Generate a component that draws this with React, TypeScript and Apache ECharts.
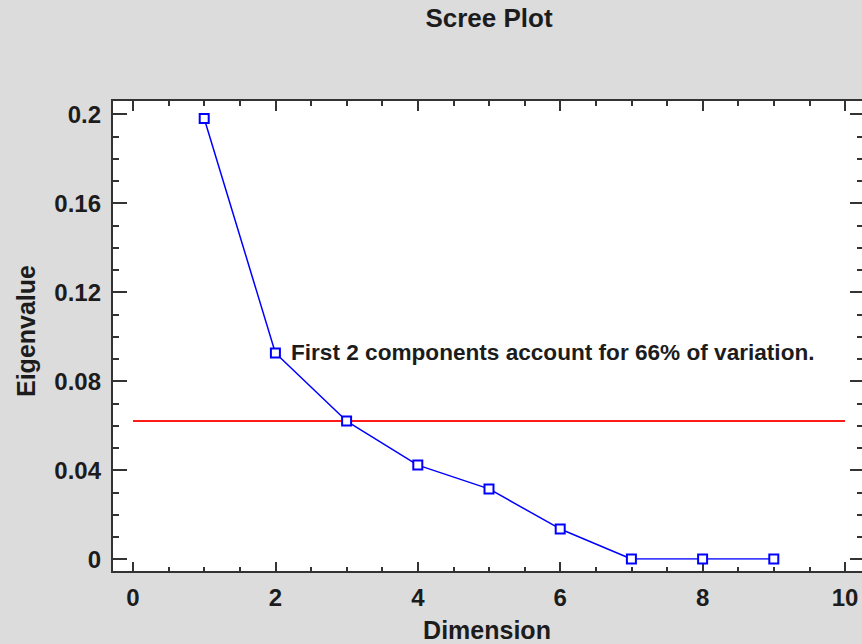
import React, { useEffect, useRef } from "react";
import * as echarts from "echarts";

const dimensions = [1, 2, 3, 4, 5, 6, 7, 8, 9];
const eigenvalues = [0.198, 0.0926, 0.062, 0.0422, 0.0315, 0.0135, 0, 0, 0];
const thresholdValue = 0.062;
const thresholdRange = [0, 10];
const titleText = "Scree Plot";
const xAxisTitle = "Dimension";
const yAxisTitle = "Eigenvalue";
const annotationText = "First 2 components account for 66% of variation.";

const FONT = "'Liberation Sans', Arial, sans-serif";
const TEXT_COLOR = "#1c1c1c";
const AXIS_COLOR = "#333333";

export default function App() {
  const ref = useRef<HTMLDivElement>(null);

  useEffect(() => {
    if (!ref.current) return;
    const chart = echarts.init(ref.current, undefined, { renderer: "svg" });

    const tickStyle = { color: AXIS_COLOR, width: 2 };
    const labelStyle = {
      fontFamily: FONT,
      fontWeight: "bold" as const,
      fontSize: 24,
      color: TEXT_COLOR,
    };
    const hiddenLine = { show: false, onZero: false };

    const option: any = {
      animation: false,
      backgroundColor: "#dcdcdc",
      grid: { left: 133, right: 17, top: 114, bottom: 85, containLabel: false },
      xAxis: [
        {
          type: "value",
          position: "bottom",
          min: 0,
          max: 10,
          interval: 2,
          offset: 13,
          axisLine: hiddenLine,
          axisTick: { show: true, inside: true, length: 10, lineStyle: tickStyle },
          minorTick: { show: true, splitNumber: 4, length: 5, lineStyle: tickStyle },
          splitLine: { show: false },
          axisLabel: { ...labelStyle, margin: 13 },
        },
        {
          type: "value",
          position: "top",
          min: 0,
          max: 10,
          interval: 2,
          offset: 14,
          axisLine: hiddenLine,
          axisTick: { show: true, inside: true, length: 11, lineStyle: tickStyle },
          minorTick: { show: true, splitNumber: 4, length: 6, lineStyle: tickStyle },
          splitLine: { show: false },
          axisLabel: { show: false },
        },
      ],
      yAxis: [
        {
          type: "value",
          position: "left",
          min: 0,
          max: 0.2,
          interval: 0.04,
          offset: 21,
          axisLine: hiddenLine,
          axisTick: { show: true, inside: true, length: 15, lineStyle: tickStyle },
          minorTick: { show: true, splitNumber: 4, length: 7, lineStyle: tickStyle },
          splitLine: { show: false },
          axisLabel: { ...labelStyle, margin: 11 },
        },
        {
          type: "value",
          position: "right",
          min: 0,
          max: 0.2,
          interval: 0.04,
          offset: 18,
          axisLine: hiddenLine,
          axisTick: { show: true, inside: true, length: 13, lineStyle: tickStyle },
          minorTick: { show: true, splitNumber: 4, length: 6, lineStyle: tickStyle },
          splitLine: { show: false },
          axisLabel: { show: false },
        },
      ],
      graphic: [
        {
          type: "rect",
          z: -10,
          silent: true,
          shape: { x: 112, y: 100, width: 751, height: 472 },
          style: { fill: "#ffffff", stroke: AXIS_COLOR, lineWidth: 2 },
        },
        {
          type: "text",
          x: 489,
          y: 18,
          style: {
            text: titleText,
            font: `bold 26px ${FONT}`,
            fill: TEXT_COLOR,
            textAlign: "center",
            textVerticalAlign: "middle",
          },
        },
        {
          type: "text",
          x: 487,
          y: 630,
          style: {
            text: xAxisTitle,
            font: `bold 25px ${FONT}`,
            fill: TEXT_COLOR,
            textAlign: "center",
            textVerticalAlign: "middle",
          },
        },
        {
          type: "text",
          x: 26,
          y: 331,
          rotation: Math.PI / 2,
          style: {
            text: yAxisTitle,
            font: `bold 25px ${FONT}`,
            fill: TEXT_COLOR,
            textAlign: "center",
            textVerticalAlign: "middle",
          },
        },
        {
          type: "text",
          x: 291,
          y: 352,
          style: {
            text: annotationText,
            font: `bold 22.6px ${FONT}`,
            fill: TEXT_COLOR,
            textAlign: "left",
            textVerticalAlign: "middle",
          },
        },
      ],
      series: [
        {
          type: "line",
          xAxisIndex: 0,
          yAxisIndex: 0,
          data: thresholdRange.map((x) => [x, thresholdValue]),
          showSymbol: false,
          symbol: "none",
          lineStyle: { color: "#ff1a1a", width: 2 },
          z: 2,
        },
        {
          type: "line",
          xAxisIndex: 0,
          yAxisIndex: 0,
          data: dimensions.map((d, i) => [d, eigenvalues[i]]),
          symbol: "rect",
          symbolSize: 9,
          showAllSymbol: true,
          lineStyle: { color: "#0000ff", width: 1.5 },
          itemStyle: { color: "#ffffff", borderColor: "#0000ff", borderWidth: 2 },
          z: 3,
        },
      ],
    };

    chart.setOption(option);
    return () => chart.dispose();
  }, []);

  return (
    <div
      ref={ref}
      style={{ position: "fixed", left: 0, top: 0, width: 862, height: 644 }}
    />
  );
}
